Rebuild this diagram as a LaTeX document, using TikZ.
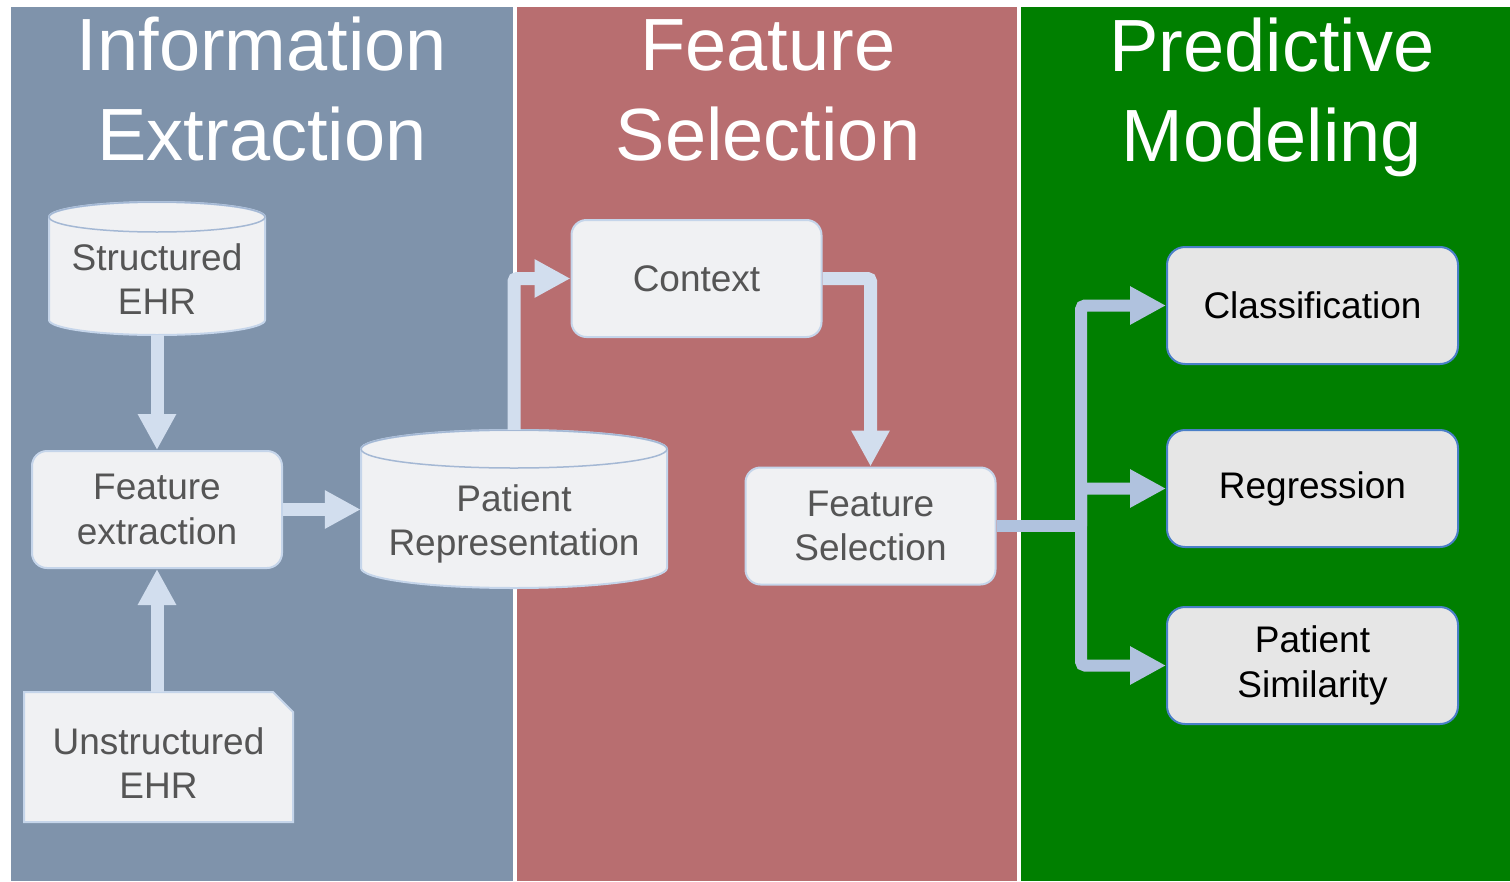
\documentclass[tikz,border=0pt]{standalone}
\usepackage{fontspec}
\setmainfont{Liberation Sans}
\usetikzlibrary{arrows.meta}

\definecolor{ieblue}{HTML}{7F93AB}
\definecolor{fsred}{HTML}{B86E70}
\definecolor{pmgreen}{HTML}{007F00}
\definecolor{boxfill}{HTML}{F0F1F3}
\definecolor{boxline}{HTML}{C5D5EA}
\definecolor{rimline}{HTML}{A4B8D4}
\definecolor{boxtext}{HTML}{555555}
\definecolor{flowlight}{HTML}{D2DEEE}
\definecolor{flowblue}{HTML}{B0C2DE}
\definecolor{outfill}{HTML}{E6E6E6}
\definecolor{outline}{HTML}{4A7FC8}

\begin{document}
\begin{tikzpicture}[x=1pt,y=-1pt,
  heading/.style={anchor=base, text=white, inner sep=0pt,
    font=\fontsize{74}{89}\selectfont},
  boxfont/.style={font=\fontsize{37}{44.5}\selectfont},
  stagebox/.style={draw=boxline, fill=boxfill, line width=2pt,
    rounded corners=15pt, minimum width=250pt, minimum height=117pt,
    align=center, text=boxtext, inner sep=0pt, boxfont},
  shapeline/.style={draw=boxline, fill=boxfill, line width=2pt},
  rim/.style={draw=rimline, fill=none, line width=1.5pt},
  shapetext/.style={align=center, text=boxtext, inner sep=0pt, boxfont},
  hitbox/.style={draw=none, fill=none, inner sep=0pt},
  outbox/.style={draw=outline, fill=outfill, line width=2pt,
    rounded corners=18pt, minimum width=291pt, minimum height=117pt,
    align=center, text=black, inner sep=0pt, boxfont},
  flow/.style={draw=flowlight, line width=13pt, rounded corners=3pt,
    -{Triangle[length=36pt,width=36pt]}},
  flowout/.style={draw=flowblue, line width=12pt, rounded corners=4pt},
  flowtip/.style={-{Triangle[length=36pt,width=36pt]}}
]

% page and the three stage panels
\fill[white] (0,0) rectangle (1510,881);
\fill[ieblue] (11,7) rectangle (513,881);
\fill[fsred] (517,7) rectangle (1017,881);
\fill[pmgreen] (1021,7) rectangle (1510,881);

% panel headings
\node[heading] (ie1) at (262,70) {Information};
\node[heading] (ie2) at (262,160) {Extraction};
\node[heading] (fs1) at (768,70) {Feature};
\node[heading] (fs2) at (768,160) {Selection};
\node[heading] (pm1) at (1272,71) {Predictive};
\node[heading] (pm2) at (1272,161) {Modeling};

% Structured EHR (drum)
\path[shapeline] (49,217) -- (49,320)
  arc[start angle=180, end angle=360, x radius=108pt, y radius=15pt]
  -- (265,217)
  arc[start angle=0, end angle=180, x radius=108pt, y radius=15pt] -- cycle;
\draw[rim] (157,217) ellipse[x radius=108pt, y radius=15pt];
\node[hitbox, minimum width=216pt, minimum height=133pt] (sehr) at (157,268.5) {};
\node[shapetext] (sehrtext) at (157,279) {Structured\\EHR};

% Unstructured EHR (document with clipped corner)
\path[shapeline] (24,692) -- (273,692) -- (293,712) -- (293,822) -- (24,822) -- cycle;
\node[hitbox, minimum width=269pt, minimum height=130pt] (uehr) at (158.5,757) {};
\node[shapetext] (uehrtext) at (158.5,763) {Unstructured\\EHR};

% Feature extraction
\node[stagebox] (fext) at (157,509.5) {Feature\\extraction};

% Patient Representation (drum)
\path[shapeline] (361,449) -- (361,568)
  arc[start angle=180, end angle=360, x radius=153pt, y radius=20pt]
  -- (667,449)
  arc[start angle=0, end angle=180, x radius=153pt, y radius=19pt] -- cycle;
\draw[rim] (514,449) ellipse[x radius=153pt, y radius=19pt];
\node[hitbox, minimum width=306pt, minimum height=158pt] (prep) at (514,509) {};
\node[shapetext] (preptext) at (514,524) {Patient\\Representation};

% feature selection stage
\node[stagebox] (ctx) at (696.5,278.5) {Context};
\node[stagebox] (fsel) at (870.5,526) {Feature\\Selection};

% predictive models
\node[outbox] (cls) at (1312.5,305.5) {Classification};
\node[outbox] (reg) at (1312.5,488.5) {Regression};
\node[outbox] (psim) at (1312.5,665.5) {Patient\\Similarity};

% flow through extraction and selection
\draw[flow] (sehr.south) -- (fext.north);
\draw[flow] (uehr.north -| fext.south) -- (fext.south);
\draw[flow] (fext.east) -- (fext.east -| prep.west);
\draw[flow] (prep.north) |- (ctx.west);
\draw[flow] (ctx.east) -| (fsel.north);

% fan-out to the models
\coordinate (split) at (1081,526);
\draw[flowout] (fsel.east) -- (split);
\draw[flowout, flowtip] (split) |- (cls.west);
\draw[flowout, flowtip] (split) |- (reg.west);
\draw[flowout, flowtip] (split) |- (psim.west);

\end{tikzpicture}
\end{document}
